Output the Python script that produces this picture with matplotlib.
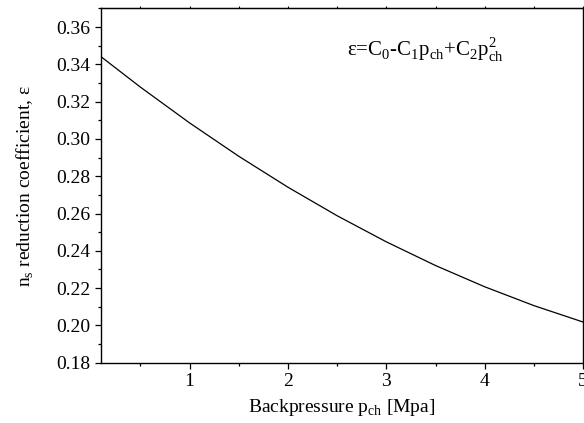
import matplotlib
matplotlib.use("Agg")
import matplotlib.pyplot as plt
from matplotlib.ticker import MultipleLocator

# backpressure [MPa] and reduction coefficient
p_ch = [0.1, 0.5, 1.0, 1.5, 2.0, 2.5, 3.0, 3.5, 4.0, 4.5, 5.0]
eps = [0.3441, 0.3278, 0.3086, 0.2907, 0.2741, 0.2588, 0.2448, 0.2321, 0.2207, 0.2106, 0.2018]

plt.rcParams['font.family'] = ['Liberation Serif', 'DejaVu Serif']
plt.rcParams['mathtext.fontset'] = 'custom'
plt.rcParams['mathtext.rm'] = 'Liberation Serif'

fig = plt.figure(figsize=(5.84, 4.23), dpi=100)
ax = fig.add_axes([0.173, 0.1426, 0.8255, 0.8375])

ax.plot(p_ch, eps, color='black', linewidth=0.9)

ax.set_xlim(0.1, 5.0)
ax.set_ylim(0.18, 0.37)
ax.xaxis.set_major_locator(MultipleLocator(1))
ax.xaxis.set_minor_locator(MultipleLocator(0.5))
ax.yaxis.set_major_locator(MultipleLocator(0.02))
ax.yaxis.set_minor_locator(MultipleLocator(0.01))
ax.yaxis.set_major_formatter(plt.FormatStrFormatter('%.2f'))

ax.tick_params(which='both', direction='out', labelsize=14, width=0.9, pad=3)
ax.tick_params(which='major', length=4.5)
ax.tick_params(which='minor', length=2.5)
for s in ax.spines.values():
    s.set_linewidth(1.0)

# tiny ticks along the top edge
top = ax.secondary_xaxis('top')
top.xaxis.set_major_locator(MultipleLocator(0.5))
top.tick_params(direction='out', length=1.5, width=0.8, labeltop=False)

ax.set_xlabel(r'Backpressure p$_\mathregular{ch}$ [Mpa]', fontsize=14, labelpad=5)
ax.set_ylabel(r'n$_\mathregular{s}$ reduction coefficient, ε', fontsize=14, labelpad=15)

ax.text(0.51, 0.865,
        r'ε=C$_\mathregular{0}$-C$_\mathregular{1}$p$_\mathregular{ch}$+C$_\mathregular{2}$p$_\mathregular{ch}^\mathregular{2}$',
        transform=ax.transAxes, fontsize=15, ha='left', va='baseline')

fig.savefig('out.png', dpi=100)
